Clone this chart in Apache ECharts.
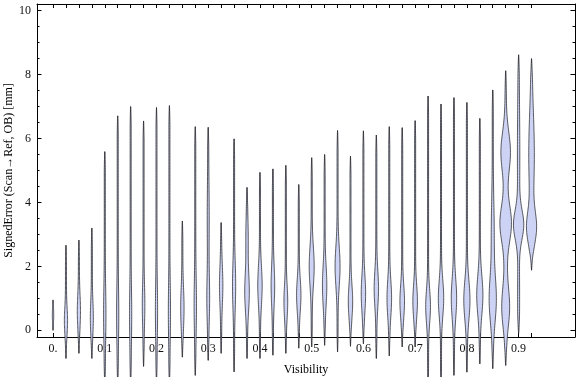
<!DOCTYPE html>
<html>
<head>
<meta charset="utf-8">
<script src="https://cdn.jsdelivr.net/npm/echarts@6/dist/echarts.min.js"></script>
<style>
  html, body { margin: 0; padding: 0; background: #fff; }
  #chart { width: 576px; height: 377px; }
</style>
</head>
<body>
<div id="chart"></div>
<script>
// violin positions on the Visibility axis
var positions = [0, 0.025, 0.05, 0.075, 0.1, 0.125, 0.15, 0.175, 0.2, 0.225,
  0.25, 0.275, 0.3, 0.325, 0.35, 0.375, 0.4, 0.425, 0.45, 0.475,
  0.5, 0.525, 0.55, 0.575, 0.6, 0.625, 0.65, 0.675, 0.7, 0.725,
  0.75, 0.775, 0.8, 0.825, 0.85, 0.875, 0.9, 0.925];

// min / max of each distribution (mm)
var lows = [0, -0.88, -0.72, -0.88, -1.7, -1.7, -1.7, -1.13, -1.7, -1.7,
  -0.84, -1.41, -0.94, -0.72, -1.3, -0.88, -0.88, -0.78, -0.72, -0.56,
  -0.52, -0.47, -0.68, -0.5, -0.42, -0.88, -0.8, -0.52, -0.52, -1.7,
  -1.7, -1.41, -1.31, -1.05, -1.2, -1.1, -0.1, 1.88];
var highs = [0.95, 2.66, 2.82, 3.2, 5.59, 6.71, 7.0, 6.55, 6.97, 7.03,
  3.42, 6.37, 6.35, 3.37, 5.99, 4.47, 4.94, 5.05, 5.16, 4.56,
  5.4, 5.5, 6.25, 5.45, 6.24, 6.11, 6.37, 6.34, 6.56, 7.33,
  7.08, 7.28, 7.13, 6.63, 7.52, 8.12, 8.62, 8.5];

// density bumps for each violin: [centre, density, spread]
var bumps = [
  [[0.5, 0.4, 0.3]],
  [[0.3, 1.1, 0.4]],
  [[0.6, 1.1, 0.5]],
  [[0.4, 1.0, 0.5]],
  [[0.5, 0.7, 0.8]],
  [[0.5, 0.6, 0.8]],
  [[0.5, 0.6, 0.8]],
  [[0.8, 0.8, 0.6]],
  [[0.6, 0.6, 0.8]],
  [[0.6, 0.6, 0.8]],
  [[0.7, 1.2, 0.6]],
  [[0.8, 0.7, 0.8]],
  [[1.0, 0.9, 0.7], [3.5, 0.5, 1.0]],
  [[1.4, 1.2, 0.6]],
  [[1.4, 1.1, 0.7]],
  [[1.2, 1.8, 0.6], [2.9, 0.7, 0.6]],
  [[1.4, 1.7, 0.6]],
  [[1.4, 1.3, 0.6]],
  [[0.9, 1.4, 0.5]],
  [[1.1, 1.7, 0.5]],
  [[2.0, 2.0, 0.6]],
  [[1.4, 1.7, 0.6]],
  [[2.0, 2.0, 0.6]],
  [[0.9, 1.7, 0.5]],
  [[1.15, 1.7, 0.55]],
  [[1.3, 1.7, 0.55]],
  [[1.0, 1.8, 0.55]],
  [[0.9, 1.8, 0.5]],
  [[0.9, 1.8, 0.5]],
  [[0.75, 1.9, 0.5]],
  [[1.0, 2.2, 0.55]],
  [[1.0, 2.2, 0.6]],
  [[0.95, 2.6, 0.6]],
  [[1.1, 2.6, 0.6]],
  [[0.95, 3.0, 0.7], [3.0, 1.0, 1.0]],
  [[0.7, 3.0, 0.6], [3.35, 4.3, 0.55], [5.6, 3.8, 0.6], [3.2, 1.0, 2.0]],
  [[3.3, 4.4, 0.45], [5.5, 0.7, 1.5], [1.0, 0.5, 1.0]],
  [[3.2, 4.1, 0.5], [5.5, 2.3, 1.3]]
];

var xLabelValues = [0, 0.1, 0.2, 0.3, 0.4, 0.5, 0.6, 0.7, 0.8, 0.9];
var yMajor = [0, 2, 4, 6, 8, 10];
var yMinor = [0.5, 1, 1.5, 2.5, 3, 3.5, 4.5, 5, 5.5, 6.5, 7, 7.5, 8.5, 9, 9.5];

var XMIN = -0.031, XMAX = 1.009;
var YMIN = -0.21, YMAX = 10.21;
var FONT = '"Liberation Serif", "DejaVu Serif", serif';

var chart = echarts.init(document.getElementById('chart'));

function halfWidth(i, v) {
  var lo = lows[i], hi = highs[i];
  var w = 0.5;
  bumps[i].forEach(function (b) {
    var z = (v - b[0]) / b[2];
    w += b[1] * Math.exp(-0.5 * z * z);
  });
  var L = 0.6;
  var t = Math.min(1, (v - lo) / L) * Math.min(1, (hi - v) / L);
  return w * Math.pow(Math.max(t, 0), 0.6);
}

function renderViolin(params, api) {
  var i = api.value(2);
  var x = api.value(0);
  var lo = lows[i], hi = highs[i];
  var n = 90;
  var left = [], right = [];
  for (var k = 0; k <= n; k++) {
    var v = lo + (hi - lo) * k / n;
    var p = api.coord([x, v]);
    var hw = halfWidth(i, v);
    left.push([p[0] - hw, p[1]]);
    right.push([p[0] + hw, p[1]]);
  }
  var pts = left.concat(right.reverse());
  var top = api.coord([x, hi]), bot = api.coord([x, lo]);
  return {
    type: 'group',
    children: [{
      // spine, visible where the violin is only a hairline
      type: 'line',
      shape: { x1: top[0], y1: top[1], x2: bot[0], y2: bot[1] },
      style: { stroke: 'rgba(50,50,55,0.75)', lineWidth: 1 }
    }, {
      type: 'polygon',
      shape: { points: pts },
      style: {
        fill: '#ccd3f4',
        stroke: 'rgba(45,45,50,0.85)',
        lineWidth: 0.9
      }
    }]
  };
}

var tickLine = { color: '#000', width: 1 };
var gridBox = { left: 37, right: 1, top: 4, bottom: 40, containLabel: false, outerBoundsMode: 'none' };

function plainY(gridIndex, pos, ticks, len, showLine) {
  return {
    type: 'value', gridIndex: gridIndex, position: pos, min: YMIN, max: YMAX,
    axisLine: { show: showLine, onZero: false, lineStyle: tickLine },
    axisTick: { show: true, inside: true, length: len, lineStyle: tickLine, customValues: ticks },
    axisLabel: { show: false },
    splitLine: { show: false }
  };
}

chart.setOption({
  animation: false,
  backgroundColor: '#fff',
  grid: [gridBox, gridBox],
  xAxis: [{
    type: 'value', gridIndex: 0, position: 'bottom', min: XMIN, max: XMAX,
    axisLine: { show: true, onZero: false, lineStyle: tickLine },
    axisTick: { show: true, inside: true, length: 4, lineStyle: tickLine, customValues: positions },
    axisLabel: {
      show: true, customValues: xLabelValues, margin: 6,
      color: '#111', fontFamily: FONT, fontSize: 12,
      formatter: function (v) { return v === 0 ? '0.' : v.toFixed(1); }
    },
    splitLine: { show: false },
    name: 'Visibility', nameLocation: 'middle', nameGap: 27,
    nameTextStyle: { color: '#000', fontFamily: FONT, fontSize: 12 }
  }, {
    type: 'value', gridIndex: 0, position: 'top', min: XMIN, max: XMAX,
    axisLine: { show: true, onZero: false, lineStyle: tickLine },
    axisTick: { show: true, inside: true, length: 4, lineStyle: tickLine, customValues: positions },
    axisLabel: { show: false },
    splitLine: { show: false }
  }, {
    type: 'value', gridIndex: 1, show: false, min: XMIN, max: XMAX
  }],
  yAxis: [{
    type: 'value', gridIndex: 0, position: 'left', min: YMIN, max: YMAX,
    axisLine: { show: true, onZero: false, lineStyle: tickLine },
    axisTick: { show: true, inside: true, length: 4.5, lineStyle: tickLine, customValues: yMajor },
    axisLabel: {
      show: true, customValues: yMajor, margin: 6,
      color: '#111', fontFamily: FONT, fontSize: 12
    },
    splitLine: { show: false },
    name: 'SignedError (Scan\u2192Ref, OB) [mm]', nameLocation: 'middle', nameGap: 22,
    nameMoveOverlap: false,
    nameRotate: 90,
    nameTextStyle: { color: '#000', fontFamily: FONT, fontSize: 12 }
  },
    plainY(0, 'right', yMajor, 4.5, true),
    plainY(1, 'left', yMinor, 2.5, false),
    plainY(1, 'right', yMinor, 2.5, false)
  ],
  series: [{
    type: 'custom',
    xAxisIndex: 0,
    yAxisIndex: 0,
    clip: false,
    silent: true,
    z: 5,
    renderItem: renderViolin,
    encode: { x: 0, y: 1 },
    data: positions.map(function (p, i) { return [p, lows[i], i]; })
  }]
});
</script>
</body>
</html>
